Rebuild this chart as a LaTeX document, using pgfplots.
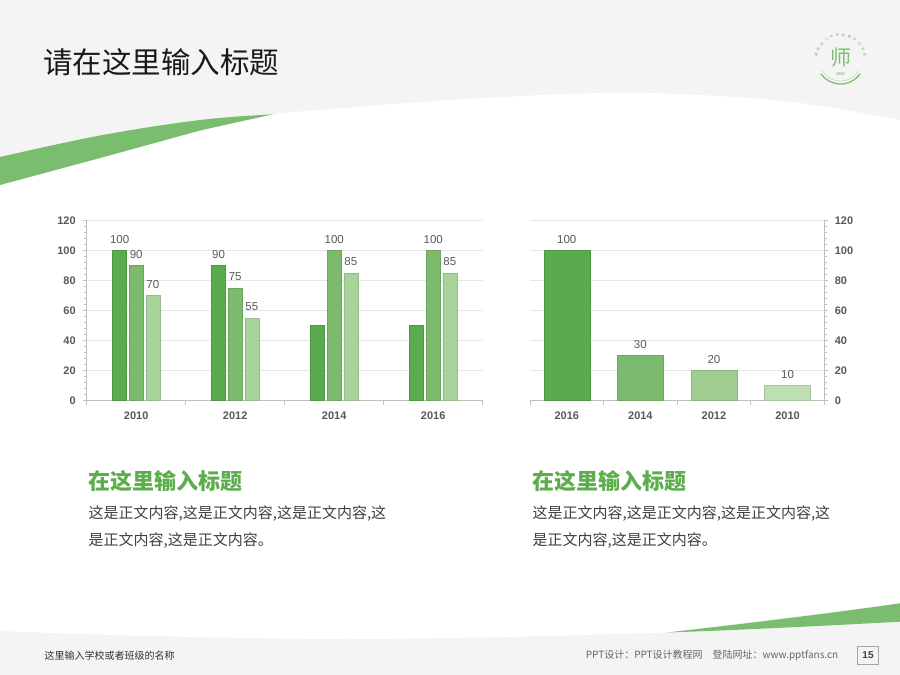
\documentclass[border=0pt]{standalone}
\usepackage{fontspec}
\setmainfont{Liberation Sans}
\newfontfamily\cjk{Noto Sans CJK SC}
\usepackage{pgfplots}
\pgfplotsset{compat=1.18}
\usetikzlibrary{decorations.text}

\definecolor{bgGray}{HTML}{F4F4F4}
\definecolor{gA}{HTML}{5AAB4E}
\definecolor{gB}{HTML}{7CBA6D}
\definecolor{gC}{HTML}{A8D49C}
\definecolor{gD}{HTML}{9ECC91}
\definecolor{gE}{HTML}{BEDFB4}
\definecolor{swoosh}{HTML}{7ABD6E}
\definecolor{head}{HTML}{5CAD4B}
\definecolor{lbl}{HTML}{595959}
\definecolor{gridc}{HTML}{E6E6E6}
\definecolor{axc}{HTML}{BFBFBF}
\definecolor{logoG}{HTML}{7DBE6E}
\definecolor{body}{HTML}{404040}

\pgfplotsset{
  greenbars/.style={
    scale only axis, height=180pt,
    xmin=-0.5, xmax=3.5, ymin=0, ymax=120,
    ytick={0,20,...,120}, minor y tick num=4,
    xtick={-0.5,0.5,1.5,2.5,3.5},
    ymajorgrids, grid style={gridc, line width=0.7pt},
    axis line style={axc, line width=0.8pt},
    tick style={axc, line width=0.6pt},
    tick align=outside, major tick length=4pt, minor tick length=2.5pt,
    tick label style={font=\bfseries\fontsize{11}{11}\selectfont, text=lbl},
    /pgf/number format/assume math mode=true,
    ybar,
    every node near coord/.append style={font=\fontsize{11.5}{12}\selectfont, text=lbl, yshift=4pt},
    clip=false,
  },
}

\begin{document}
\begin{tikzpicture}[x=1pt,y=-1pt]
\path[use as bounding box] (0,0) rectangle (900,675);
\fill[bgGray] (0,0) rectangle (900,675);
% white body of the slide
\fill[white] plot[smooth, tension=0.6] coordinates {(0,185) (100,158) (200,130.5) (273,114.3) (300,111.5) (450,100) (600,93) (700,95) (800,103) (900,120)}
  -- (900,603.3) -- (667,632.5)
  -- plot[smooth, tension=0.6] coordinates {(550,636) (350,639) (150,636) (0,631)} -- cycle;
% green swooshes
\fill[swoosh] plot[smooth, tension=0.6] coordinates {(0,157) (100,135.5) (200,120) (273,114.3)}
  -- plot[smooth, tension=0.6] coordinates {(200,130.5) (100,158) (0,185)} -- cycle;
\fill[swoosh] (667,632.5) .. controls (760,622) and (840,612) .. (900,603.3)
  -- (900,621.7) .. controls (820,626) and (740,630) .. (667,632.5) -- cycle;

% title
\node[anchor=west, inner sep=0, font=\cjk\fontsize{29.5}{30}\selectfont, text=black!90] at (43,62.5) {请在这里输入标题};

% logo
\begin{scope}[shift={(840.5,60)}]
  \draw[logoG, line width=1.3pt] (35:24) arc[start angle=35, end angle=145, radius=24];
  \draw[logoG!60, line width=0.4pt] (30:21) arc[start angle=30, end angle=150, radius=21];
  \node[inner sep=0, text=logoG, font=\cjk\fontsize{21}{21}\selectfont] at (0,-2.5) {师};
  \node[inner sep=0, text=logoG, font=\bfseries\fontsize{4}{4}\selectfont] at (0,14.3) {1913};
  \path[decorate, decoration={text along path, text align=fit to path,
     text={|\cjk\fontsize{3.4}{3.4}\selectfont\color{logoG}|福建幼儿师范高等专科学校}}]
     (188:23.5) arc[start angle=188, end angle=352, radius=23.5];
\end{scope}

% left chart
\begin{axis}[greenbars, at={(86.7pt,-400.7pt)}, anchor=south west, width=396pt,
  axis x line*=bottom, axis y line*=left,
  xticklabels={2010,2012,2014,2016,}, xticklabel style={xshift=49.5pt, yshift=-3.5pt},
  yticklabel style={xshift=-3.5pt},
  bar width=14pt]
\addplot[fill=gA, draw=gA!88!black, line width=0.5pt, bar shift=-16.6pt, nodes near coords] coordinates {(0,100) (1,90)};
\addplot[fill=gA, draw=gA!88!black, line width=0.5pt, bar shift=-16.6pt] coordinates {(2,50) (3,50)};
\addplot[fill=gB, draw=gB!88!black, line width=0.5pt, bar shift=0pt, nodes near coords] coordinates {(0,90) (1,75) (2,100) (3,100)};
\addplot[fill=gC, draw=gC!88!black, line width=0.5pt, bar shift=16.6pt, nodes near coords] coordinates {(0,70) (1,55) (2,85) (3,85)};
\end{axis}

% right chart
\begin{axis}[greenbars, at={(530pt,-400.7pt)}, anchor=south west, width=294.3pt,
  axis x line*=bottom, axis y line*=right,
  xticklabels={2016,2014,2012,2010,}, xticklabel style={xshift=36.8pt, yshift=-3.5pt},
  yticklabel style={xshift=3pt},
  bar width=46pt]
\addplot[fill=gA, draw=gA!88!black, line width=0.5pt, bar shift=0pt, nodes near coords] coordinates {(0,100)};
\addplot[fill=gB, draw=gB!88!black, line width=0.5pt, bar shift=0pt, nodes near coords] coordinates {(1,30)};
\addplot[fill=gD, draw=gD!88!black, line width=0.5pt, bar shift=0pt, nodes near coords] coordinates {(2,20)};
\addplot[fill=gE, draw=gE!88!black, line width=0.5pt, bar shift=0pt, nodes near coords] coordinates {(3,10)};
\end{axis}

% text blocks
\node[anchor=west, inner sep=0, font=\cjk\bfseries\fontsize{22}{22}\selectfont, text=head] at (88.5,481) {在这里输入标题};
\node[anchor=west, inner sep=0, font=\cjk\fontsize{15}{15}\selectfont, text=body] at (88.5,514) {这是正文内容,这是正文内容,这是正文内容,这};
\node[anchor=west, inner sep=0, font=\cjk\fontsize{15}{15}\selectfont, text=body] at (88.5,541) {是正文内容,这是正文内容。};
\node[anchor=west, inner sep=0, font=\cjk\bfseries\fontsize{22}{22}\selectfont, text=head] at (532,481) {在这里输入标题};
\node[anchor=west, inner sep=0, font=\cjk\fontsize{15}{15}\selectfont, text=body] at (532.5,514) {这是正文内容,这是正文内容,这是正文内容,这};
\node[anchor=west, inner sep=0, font=\cjk\fontsize{15}{15}\selectfont, text=body] at (532.5,541) {是正文内容,这是正文内容。};

% footer
\node[anchor=west, inner sep=0, font=\cjk\fontsize{10}{10}\selectfont, text=black!80] at (44.5,655.5) {这里输入学校或者班级的名称};
\node[anchor=east, inner sep=0, font=\cjk\fontsize{10}{10}\selectfont, text=black!60] at (838.5,655.5) {PPT设计：PPT设计教程网\hspace{10pt}登陆网址：www.pptfans.cn};
\node[draw=black!35, line width=0.6pt, minimum width=21pt, minimum height=17.5pt, inner sep=0,
  font=\bfseries\fontsize{10}{10}\selectfont, text=black!75] at (868,655.3) {15};
\end{tikzpicture}
\end{document}
